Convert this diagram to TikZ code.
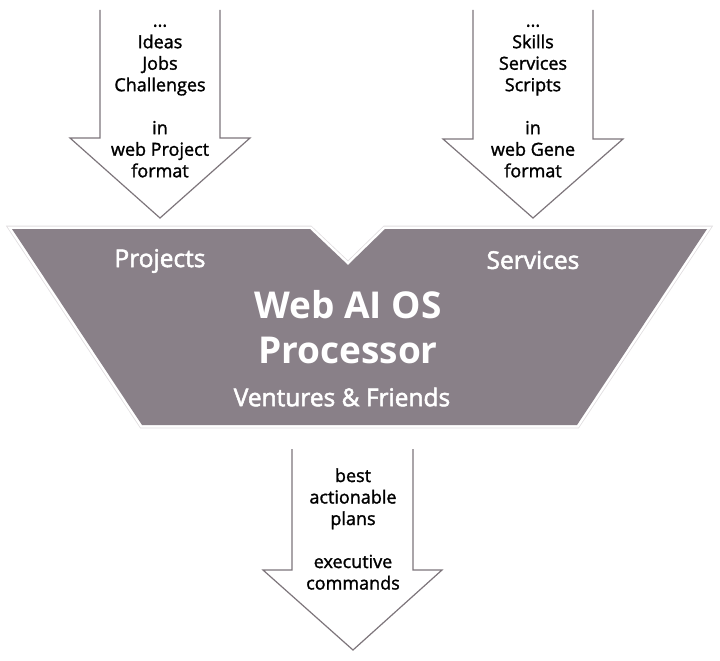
\documentclass[tikz,border=0pt]{standalone}
\usepackage{fontspec}
\setmainfont{Open Sans}
\newfontfamily\semifont[FakeBold=1.5]{Open Sans}
\newfontfamily\heavyfont[FakeBold=2.2]{Open Sans}
\definecolor{procfill}{RGB}{137,128,136}
\definecolor{arrowline}{RGB}{125,117,123}
\definecolor{rimline}{RGB}{225,222,224}
\tikzset{
  flow/.style={draw=arrowline, line width=1.2pt, fill=white, line join=miter},
  flowtext/.style={align=center, text=black, font=\semifont\fontsize{18}{21.5}\selectfont},
  proctext/.style={text=white, font=\heavyfont\fontsize{24.5}{26}\selectfont},
  proctitle/.style={text=white, align=center, font=\fontsize{37}{45}\selectfont\bfseries},
}
\begin{document}
\begin{tikzpicture}[x=1pt,y=-1pt]
  \useasboundingbox (0,0) rectangle (720,661);

  % left input arrow
  \coordinate (l1) at (100,10);
  \coordinate (l2) at (100,138);
  \coordinate (l3) at (70,138);
  \coordinate (l4) at (160,218);
  \coordinate (l5) at (250,138);
  \coordinate (l6) at (220,138);
  \coordinate (l7) at (220,10);
  \draw[flow] (l1) -- (l2) -- (l3) -- (l4) -- (l5) -- (l6) -- (l7);

  % right input arrow
  \coordinate (r1) at (473,10);
  \coordinate (r2) at (473,139);
  \coordinate (r3) at (443,139);
  \coordinate (r4) at (533,218);
  \coordinate (r5) at (623,139);
  \coordinate (r6) at (593,139);
  \coordinate (r7) at (593,10);
  \draw[flow] (r1) -- (r2) -- (r3) -- (r4) -- (r5) -- (r6) -- (r7);

  % output arrow
  \coordinate (o1) at (292,449);
  \coordinate (o2) at (292,570);
  \coordinate (o3) at (263,570);
  \coordinate (o4) at (353,650);
  \coordinate (o5) at (442,570);
  \coordinate (o6) at (413,570);
  \coordinate (o7) at (413,449);
  \draw[flow] (o1) -- (o2) -- (o3) -- (o4) -- (o5) -- (o6) -- (o7);

  % processor
  \coordinate (p1) at (12,229);
  \coordinate (p2) at (310,229);
  \coordinate (p3) at (348,265);
  \coordinate (p4) at (385,229);
  \coordinate (p5) at (707,229);
  \coordinate (p6) at (577,425);
  \coordinate (p7) at (142,425);
  \draw[draw=rimline, line width=0.8pt, double=white, double distance=5pt, line join=miter]
    (p1) -- (p2) -- (p3) -- (p4) -- (p5) -- (p6) -- (p7) -- cycle;
  \fill[procfill] (p1) -- (p2) -- (p3) -- (p4) -- (p5) -- (p6) -- (p7) -- cycle;

  \node[flowtext] (ideas) at (160,101) {...\\Ideas\\Jobs\\Challenges\\[21.5pt]in\\web Project\\format};
  \node[flowtext] (skills) at (533,101) {...\\Skills\\Services\\Scripts\\[21.5pt]in\\web Gene\\format};
  \node[flowtext] (plans) at (353,529) {best\\actionable\\plans\\[21.5pt]executive\\commands};

  \node[proctext] (projects) at (160,261) {Projects};
  \node[proctext] (services) at (533,260) {Services};
  \node[proctitle] (title) at (348,327) {Web AI OS\\Processor};
  \node[proctext] (ventures) at (342,397) {Ventures \& Friends};
\end{tikzpicture}
\end{document}
